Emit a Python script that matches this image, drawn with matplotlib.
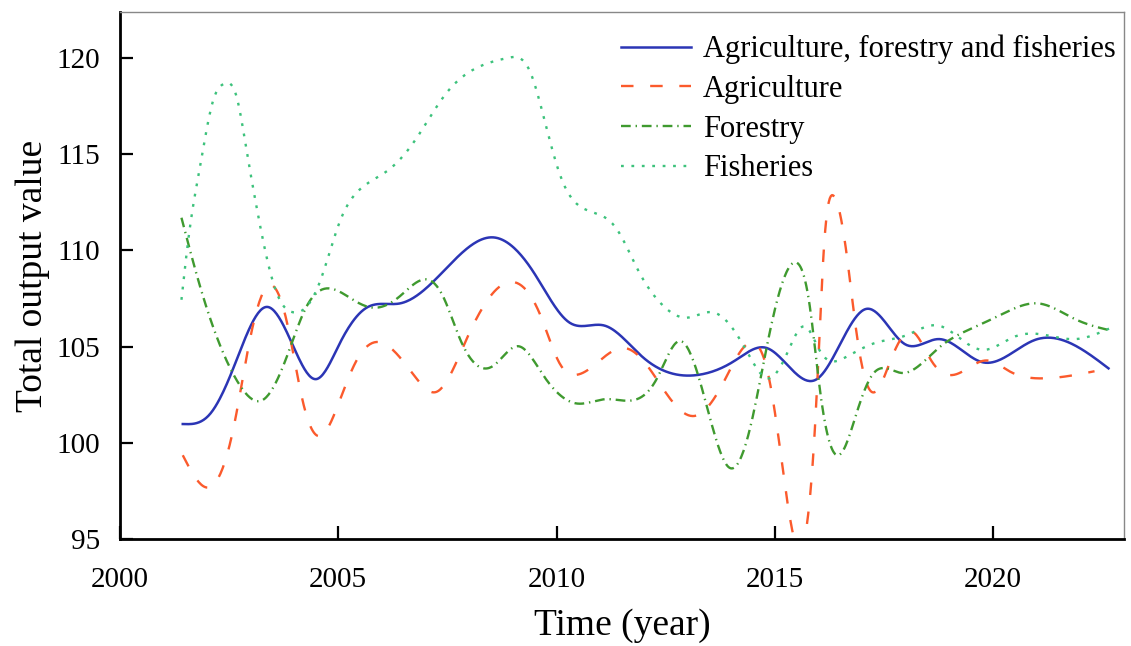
import numpy as np
import matplotlib
matplotlib.use("Agg")
import matplotlib.pyplot as plt

plt.rcParams['font.family'] = ['Liberation Serif', 'DejaVu Serif']
plt.rcParams['lines.scale_dashes'] = False

# 读图得到的点 (年份, 数值)
total_x = [2001.44, 2002.06, 2002.6, 2003.36, 2003.97, 2004.49, 2005.04, 2005.65, 2006.41,
           2007.17, 2008.55, 2009.46, 2010.3, 2011.1, 2011.97, 2013.24, 2014.09, 2014.81,
           2015.96, 2017.1, 2017.99, 2018.75, 2019.77, 2020.96, 2022.64]
total_y = [100.99, 101.5, 103.9, 107.07, 105.03, 103.32, 105.2, 107.03, 107.25,
           108.37, 110.68, 108.92, 106.25, 106.1, 104.47, 103.54, 104.29, 104.94,
           103.32, 106.97, 105.12, 105.4, 104.19, 105.36, 103.88]

agri_x = [2001.44, 2002.06, 2002.6, 2002.98, 2003.4, 2003.82, 2004.2, 2004.56, 2005.04,
          2005.42, 2005.88, 2006.79, 2007.25, 2007.94, 2008.97, 2009.62, 2010.08, 2010.43,
          2011.54, 2012.05, 2012.56, 2013.16, 2013.83, 2014.51, 2014.85, 2015.11, 2015.49,
          2015.96, 2016.12, 2016.34, 2016.63, 2016.89, 2017.19, 2017.65, 2018.16, 2018.58,
          2019.09, 2019.86, 2020.37, 2021.13, 2022.32]
agri_y = [99.37, 97.71, 100.76, 105.4, 108.18, 106.33, 102.06, 100.36, 102.25,
          104.29, 105.25, 103.36, 102.66, 105.4, 108.37, 106.69, 104.1, 103.54,
          104.94, 104.1, 102.43, 101.41, 103.18, 105.21, 103.54, 99.84, 94.7,
          102.62, 110.03, 112.85, 110.03, 105.4, 102.71, 104.29, 105.77, 104.29,
          103.54, 104.29, 103.73, 103.36, 103.73]

forest_x = [2001.41, 2001.83, 2002.37, 2002.75, 2003.28, 2003.82, 2004.27, 2004.73, 2005.34,
            2005.8, 2006.41, 2007.1, 2007.4, 2007.79, 2008.55, 2009.12, 2009.69, 2010.45,
            2011.12, 2011.8, 2012.3, 2012.82, 2013.24, 2013.58, 2013.96, 2014.43, 2014.85,
            2015.15, 2015.45, 2015.79, 2016.04, 2016.46, 2016.89, 2017.23, 2017.91, 2018.75,
            2019.6, 2020.2, 2021.04, 2021.89, 2022.66]
forest_y = [111.7, 108.18, 104.66, 102.99, 102.25, 104.47, 107.07, 108.03, 107.44,
            107.03, 107.62, 108.45, 107.62, 105.4, 104.01, 105.03, 103.54, 102.06,
            102.28, 102.25, 103.36, 105.3, 103.54, 100.76, 98.72, 100.76, 105.4,
            108.18, 109.38, 107.25, 102.62, 99.37, 101.69, 103.54, 103.64, 104.94,
            106.05, 106.69, 107.25, 106.42, 105.86]

fish_x = [2001.41, 2001.6, 2001.83, 2002.14, 2002.38, 2002.67, 2002.9, 2003.13, 2003.36,
          2003.59, 2003.97, 2004.27, 2004.58, 2005.04, 2005.5, 2006.11, 2006.72, 2007.48,
          2008.17, 2008.89, 2009.39, 2009.69, 2010.1, 2010.6, 2011.37, 2011.88, 2012.39,
          2012.98, 2013.58, 2014.09, 2014.43, 2014.85, 2015.28, 2015.7, 2016.04, 2016.63,
          2017.31, 2017.99, 2018.75, 2019.26, 2019.77, 2020.45, 2020.96, 2021.89, 2022.66]
fish_y = [107.44, 111.14, 114.29, 117.82, 118.65, 118.0, 115.22, 112.26, 109.66,
          107.8, 106.79, 107.07, 108.37, 111.52, 113.18, 114.11, 115.59, 118.18,
          119.48, 120.0, 119.3, 117.07, 113.8, 112.2, 111.14, 108.92, 107.25,
          106.51, 106.79, 105.77, 104.47, 103.36, 104.66, 106.05, 104.75, 104.47,
          105.21, 105.58, 106.1, 105.4, 104.84, 105.49, 105.68, 105.4, 105.95]

labels = ['Agriculture, forestry and fisheries', 'Agriculture', 'Forestry', 'Fisheries']


def smooth(x, y, n=800):
    # 自然三次样条，只用来把线画平滑
    x = np.asarray(x, float)
    y = np.asarray(y, float)
    N = len(x)
    h = np.diff(x)
    A = np.zeros((N, N))
    b = np.zeros(N)
    A[0, 0] = 1
    A[-1, -1] = 1
    for k in range(1, N - 1):
        A[k, k - 1] = h[k - 1]
        A[k, k] = 2 * (h[k - 1] + h[k])
        A[k, k + 1] = h[k]
        b[k] = 6 * ((y[k + 1] - y[k]) / h[k] - (y[k] - y[k - 1]) / h[k - 1])
    M = np.linalg.solve(A, b)
    xs = np.linspace(x[0], x[-1], n)
    i = np.clip(np.searchsorted(x, xs) - 1, 0, N - 2)
    a = x[i + 1] - xs
    c = xs - x[i]
    hi = h[i]
    ys = (M[i] * a**3 + M[i + 1] * c**3) / (6 * hi) \
        + (y[i] / hi - M[i] * hi / 6) * a + (y[i + 1] / hi - M[i + 1] * hi / 6) * c
    return xs, ys


fig = plt.figure(figsize=(11.31, 6.46), dpi=100)
ax = fig.add_axes([0.106, 0.165, 0.888, 0.817])

ax.plot(*smooth(total_x, total_y), color='#2b35b5', lw=1.8, ls='-', label=labels[0])
ax.plot(*smooth(agri_x, agri_y), color='#fb5a2c', lw=1.7, ls=(0, (9, 12)), label=labels[1])
ax.plot(*smooth(forest_x, forest_y), color='#3f9a2f', lw=1.7, ls=(0, (7, 3.5, 1, 3.5)), label=labels[2])
ax.plot(*smooth(fish_x, fish_y), color='#3dc27c', lw=1.7, ls=(0, (2, 5.5)), label=labels[3])

ax.set_xlim(2000, 2023)
ax.set_ylim(95, 122.4)
ax.set_xticks([2000, 2005, 2010, 2015, 2020])
ax.set_yticks([95, 100, 105, 110, 115, 120])
ax.tick_params(direction='in', length=9.5, width=1.6, labelsize=21)
ax.tick_params(axis='y', pad=14)
ax.tick_params(axis='x', pad=20)

for s in ['left', 'bottom']:
    ax.spines[s].set_linewidth(2)
    ax.spines[s].set_color('black')
for s in ['top', 'right']:
    ax.spines[s].set_linewidth(1)
    ax.spines[s].set_color('#888888')

ax.set_xlabel('Time (year)', fontsize=27, labelpad=11)
ax.set_ylabel('Total output value', fontsize=27, labelpad=5)

ax.legend(loc='upper right', frameon=False, fontsize=22, handlelength=2.3,
          handletextpad=0.4, labelspacing=0.35, borderaxespad=0.1,
          bbox_to_anchor=(1.007, 0.985))

fig.savefig('out.png', dpi=100)
